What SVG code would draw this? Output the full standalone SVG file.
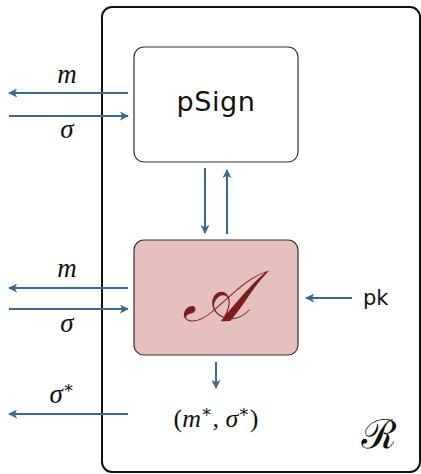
<svg xmlns="http://www.w3.org/2000/svg" width="421" height="474" viewBox="0 0 421 474">
<defs>
<marker id="ah" viewBox="0 0 10 10" refX="9" refY="5" markerWidth="4.5" markerHeight="4.5" orient="auto" markerUnits="strokeWidth">
<path d="M0,0 L10,5 L0,10 L2.5,5 z" fill="#3b6a8c"/>
</marker>
<style>
.conn{stroke:#3b6a8c;stroke-width:2;fill:none;marker-end:url(#ah)}
.math{font-family:"Liberation Serif","DejaVu Serif",serif;font-style:italic;font-size:27px;fill:#111}
.mathr{font-family:"Liberation Serif","DejaVu Serif",serif;font-size:26px;fill:#111}
.sans{font-family:"DejaVu Sans","Noto Sans",sans-serif;fill:#111}
</style>
</defs>
<rect width="421" height="474" fill="#fff"/>
<g id="R">
<rect x="102" y="7" width="318" height="465" rx="10" fill="none" stroke="#111" stroke-width="2"/>
<text x="379" y="448" text-anchor="middle" style="font-family:'DejaVu Serif','Noto Sans',serif;font-size:40px;fill:#111">ℛ</text>
</g>
<g id="pSign">
<rect x="134" y="47" width="164" height="115" rx="10" fill="#fff" stroke="#333" stroke-width="1.2"/>
<text x="216" y="111" text-anchor="middle" class="sans" style="font-size:27px;letter-spacing:0.6px">pSign</text>
</g>
<g id="A">
<rect x="134" y="240" width="164" height="115" rx="10" fill="#e6c0bd" stroke="#333" stroke-width="1.2"/>
<text x="216" y="321" text-anchor="middle" style="font-family:'DejaVu Serif','Liberation Serif',serif;font-style:italic;font-size:72px;fill:#7a1e1e">𝒜</text>
</g>
<g id="output">
<text x="216" y="427" text-anchor="middle" class="mathr">(<tspan font-style="italic">m</tspan><tspan font-size="17" dy="-10">∗</tspan><tspan dy="10">, </tspan><tspan font-style="italic">σ</tspan><tspan font-size="17" dy="-10">∗</tspan><tspan dy="10">)</tspan></text>
</g>
<g id="pk">
<text x="363" y="305" class="sans" style="font-size:21px">pk</text>
</g>
<g id="labels">
<text x="67" y="83" text-anchor="middle" class="math">m</text>
<text x="67" y="138" text-anchor="middle" class="math">σ</text>
<text x="67" y="277" text-anchor="middle" class="math">m</text>
<text x="67" y="332" text-anchor="middle" class="math">σ</text>
<text x="62" y="403" text-anchor="middle" class="math">σ<tspan font-style="normal" font-size="17" dy="-10">∗</tspan></text>
</g>
<g id="connectors">
<line class="conn" x1="128" y1="93" x2="9" y2="93"/>
<line class="conn" x1="9" y1="116" x2="128" y2="116"/>
<line class="conn" x1="128" y1="288" x2="9" y2="288"/>
<line class="conn" x1="9" y1="309" x2="128" y2="309"/>
<line class="conn" x1="128" y1="414" x2="9" y2="414"/>
<line class="conn" x1="205" y1="168" x2="205" y2="233"/>
<line class="conn" x1="227" y1="234" x2="227" y2="170"/>
<line class="conn" x1="216" y1="362" x2="216" y2="388"/>
<line class="conn" x1="352" y1="298" x2="306" y2="298"/>
</g>
</svg>
